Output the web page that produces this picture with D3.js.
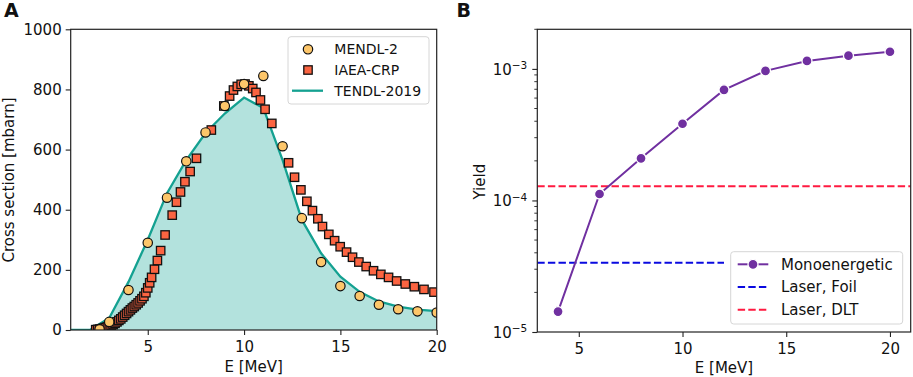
<!DOCTYPE html>
<html>
<head>
<meta charset="utf-8">
<script src="https://cdn.jsdelivr.net/npm/d3@7"></script>
<style>
  body { margin: 0; background: #fff; }
  text { font-family: "DejaVu Sans", sans-serif; fill: #111; }
</style>
</head>
<body>
<svg id="fig" width="913" height="377"></svg>
<script>
// ---- panel A data ----
const tendlE = [1, 2, 3, 4, 5, 6, 7, 8, 9, 10, 11, 12, 13, 14, 15, 16, 17, 18, 19, 20];
const tendlXS = [0, 0, 40, 160, 300, 455, 565, 655, 720, 773, 738, 565, 366, 255, 177, 127, 95, 78, 68, 63];

const mendlE = [2.5, 3, 4, 5, 6, 7, 8, 9, 10, 11, 12, 13, 14, 15, 16, 17, 18, 19, 20];
const mendlXS = [2, 27, 133, 290, 440, 561, 657, 745, 818, 845, 611, 372, 226, 146, 113, 84, 69, 62, 58];

const iaeaE = [2.3, 2.4, 2.5, 2.6, 2.7, 2.8, 2.9, 3.0, 3.1, 3.2, 3.3, 3.4, 3.5, 3.6, 3.7, 3.8, 3.9,
  4.0, 4.1, 4.2, 4.3, 4.4, 4.5, 4.6, 4.7, 4.8, 4.9, 5.0, 5.1, 5.2, 5.35, 5.5, 5.67, 5.9, 6.27, 6.49,
  6.7, 6.93, 7.2, 7.53, 8.3, 8.95, 9.25, 9.45, 9.65, 9.85, 10.05, 10.25, 10.45, 10.62, 10.85, 11.09,
  11.44, 12.31, 12.62, 12.95, 13.26, 13.55, 13.83, 14.07, 14.4, 14.7, 14.99, 15.32, 15.63, 15.96,
  16.34, 16.72, 17.1, 17.5, 17.92, 18.37, 18.84, 19.34, 19.86];
const iaeaXS = [1, 2, 3, 4, 6, 8, 10, 12, 15, 18, 22, 27, 32, 37, 43, 49, 55,
  61, 67, 73, 78, 84, 90, 97, 104, 112, 124, 140, 157, 175, 202, 231, 264, 316, 382, 425,
  459, 493, 527, 571, 665, 745, 778, 798, 810, 817, 818, 812, 803, 790, 765, 734,
  687, 556, 508, 466, 428, 397, 370, 344, 318, 297, 277, 259, 242, 226,
  211, 197, 185, 175, 163, 153, 144, 135, 126];

const xTicksA = [5, 10, 15, 20];
const yTicksA = [0, 200, 400, 600, 800, 1000];

// ---- panel B data ----
const monoE = [4, 6, 8, 10, 12, 14, 16, 18, 20];
const monoYield = [1.43e-5, 1.12e-4, 2.09e-4, 3.83e-4, 6.93e-4, 9.66e-4, 1.15e-3, 1.26e-3, 1.35e-3];
const foilYield = 3.36e-5, foilRange = [3, 12];
const dltYield = 1.28e-4, dltRange = [3, 21];

const xTicksB = [5, 10, 15, 20];
const yTicksB = [1e-5, 1e-4, 1e-3];
const yExpB = ["\u22125", "\u22124", "\u22123"];

const cMendl = "#fdc66a", cIaea = "#fb6441", cTendl = "#14a191", cFill = "#b3e2dd";
const cMono = "#7030a0", cFoil = "#0a0ae0", cDlt = "#ff1a40";

const svg = d3.select("#fig");
svg.append("rect").attr("width", 913).attr("height", 377).attr("fill", "#fff");

function frame(g, x0, x1, y0, y1) {
    g.append("rect")
        .attr("x", x0).attr("y", y1)
        .attr("width", x1 - x0).attr("height", y0 - y1)
        .attr("fill", "none")
        .attr("stroke", "#222")
        .attr("stroke-width", 1.2);
}

function clip(id, x0, x1, y0, y1) {
    svg.append("clipPath").attr("id", id)
        .append("rect")
        .attr("x", x0).attr("y", y1)
        .attr("width", x1 - x0).attr("height", y0 - y1);
    return "url(#" + id + ")";
}

function styleAxis(ax) {
    ax.select(".domain").remove();
    ax.selectAll(".tick line").attr("stroke", "#222").attr("stroke-width", 1.1);
    ax.selectAll(".tick text").attr("font-size", 15).attr("fill", "#111")
        .attr("font-family", "DejaVu Sans");
}

function legend(g, x, y, w, h) {
    return g.append("rect")
        .attr("x", x).attr("y", y).attr("width", w).attr("height", h)
        .attr("rx", 3)
        .attr("fill", "#fff").attr("fill-opacity", 0.8)
        .attr("stroke", "#d6d6d6").attr("stroke-width", 1);
}

// ================= panel A =================
function panelA() {
    const x = d3.scaleLinear().domain([1, 20]).range([70.7, 436.7]);
    const y = d3.scaleLinear().domain([0, 1000]).range([330, 29.3]);
    const g = svg.append("g");
    const plot = g.append("g").attr("clip-path", clip("clipA", 70.7, 436.7, 330, 29.3));

    const pts = tendlE.map((e, i) => [e, tendlXS[i]]);

    plot.append("path")
        .datum(pts)
        .attr("fill", cFill)
        .attr("d", d3.area().x(d => x(d[0])).y0(y(0)).y1(d => y(d[1])));

    plot.append("path")
        .datum(pts)
        .attr("fill", "none")
        .attr("stroke", cTendl)
        .attr("stroke-width", 2.3)
        .attr("d", d3.line().x(d => x(d[0])).y(d => y(d[1])));

    // IAEA squares
    const s = 8.4;
    plot.selectAll(".sq")
        .data(iaeaE.map((e, i) => [e, iaeaXS[i]]))
        .enter().append("rect")
        .attr("x", d => x(d[0]) - s / 2)
        .attr("y", d => y(d[1]) - s / 2)
        .attr("width", s).attr("height", s)
        .attr("fill", cIaea)
        .attr("stroke", "#111").attr("stroke-width", 1.3);

    // MENDL circles
    plot.selectAll(".ci")
        .data(mendlE.map((e, i) => [e, mendlXS[i]]))
        .enter().append("circle")
        .attr("cx", d => x(d[0]))
        .attr("cy", d => y(d[1]))
        .attr("r", 4.7)
        .attr("fill", cMendl)
        .attr("stroke", "#111").attr("stroke-width", 1.2);

    frame(g, 70.7, 436.7, 330, 29.3);

    const ax = g.append("g")
        .attr("transform", "translate(0,330)")
        .call(d3.axisBottom(x).tickValues(xTicksA).tickSize(5).tickPadding(6));
    styleAxis(ax);
    const ay = g.append("g")
        .attr("transform", "translate(70.7,0)")
        .call(d3.axisLeft(y).tickValues(yTicksA).tickSize(5).tickPadding(4)
            .tickFormat(d3.format("d")));
    styleAxis(ay);

    g.append("text").attr("x", 253.7).attr("y", 371.5)
        .attr("text-anchor", "middle").attr("font-size", 15).text("E [MeV]");
    g.append("text")
        .attr("transform", "translate(13.5,180) rotate(-90)")
        .attr("text-anchor", "middle").attr("font-size", 15).text("Cross section [mbarn]");

    // legend
    legend(g, 288, 36.7, 141, 67.3);
    const rows = [49.3, 70, 90.7];
    g.append("circle").attr("cx", 308).attr("cy", rows[0]).attr("r", 4.7)
        .attr("fill", cMendl).attr("stroke", "#111").attr("stroke-width", 1.2);
    g.append("rect").attr("x", 308 - s / 2).attr("y", rows[1] - s / 2)
        .attr("width", s).attr("height", s)
        .attr("fill", cIaea).attr("stroke", "#111").attr("stroke-width", 1.3);
    g.append("line").attr("x1", 292).attr("x2", 323)
        .attr("y1", rows[2]).attr("y2", rows[2])
        .attr("stroke", cTendl).attr("stroke-width", 2.3);
    ["MENDL-2", "IAEA-CRP", "TENDL-2019"].forEach((t, i) => {
        g.append("text").attr("x", 334.3).attr("y", rows[i] + 5)
            .attr("font-size", 14).text(t);
    });

    svg.append("text").attr("x", 4).attr("y", 17)
        .attr("font-size", 19).attr("font-weight", "bold").text("A");
}

// ================= panel B =================
function panelB() {
    const x = d3.scaleLinear().domain([3, 21]).range([537.3, 910.7]);
    const y = d3.scaleLog().domain([1e-5, 2e-3]).range([332, 29.3]);
    const g = svg.append("g");
    const plot = g.append("g").attr("clip-path", clip("clipB", 537.3, 910.7, 332, 29.3));

    // horizontal laser lines
    plot.append("line")
        .attr("x1", x(dltRange[0])).attr("x2", x(dltRange[1]))
        .attr("y1", y(dltYield)).attr("y2", y(dltYield))
        .attr("stroke", cDlt).attr("stroke-width", 2)
        .attr("stroke-dasharray", "7.4,3.2");
    plot.append("line")
        .attr("x1", x(foilRange[0])).attr("x2", x(foilRange[1]))
        .attr("y1", y(foilYield)).attr("y2", y(foilYield))
        .attr("stroke", cFoil).attr("stroke-width", 2)
        .attr("stroke-dasharray", "7.4,3.2");

    const pts = monoE.map((e, i) => [e, monoYield[i]]);
    plot.append("path")
        .datum(pts)
        .attr("fill", "none")
        .attr("stroke", cMono)
        .attr("stroke-width", 2)
        .attr("d", d3.line().x(d => x(d[0])).y(d => y(d[1])));
    plot.selectAll(".mk")
        .data(pts)
        .enter().append("circle")
        .attr("cx", d => x(d[0]))
        .attr("cy", d => y(d[1]))
        .attr("r", 5)
        .attr("fill", cMono)
        .attr("stroke", "#fff").attr("stroke-width", 1.3);

    frame(g, 537.3, 910.7, 332, 29.3);

    const ax = g.append("g")
        .attr("transform", "translate(0,332)")
        .call(d3.axisBottom(x).tickValues(xTicksB).tickSize(5).tickPadding(6));
    styleAxis(ax);

    // minor log ticks
    const minors = [];
    yTicksB.forEach(dec => {
        for (let k = 2; k <= 9; k++) if (dec * k <= 2e-3) minors.push(dec * k);
    });
    g.selectAll(".mn")
        .data(minors)
        .enter().append("line")
        .attr("x1", 537.3 - 3).attr("x2", 537.3)
        .attr("y1", d => y(d)).attr("y2", d => y(d))
        .attr("stroke", "#222").attr("stroke-width", 0.9);

    const ay = g.append("g")
        .attr("transform", "translate(537.3,0)")
        .call(d3.axisLeft(y).tickValues(yTicksB).tickSize(5).tickPadding(5).tickFormat(""));
    styleAxis(ay);
    ay.selectAll(".tick").each(function(d, i) {
        const t = d3.select(this).append("text")
            .attr("x", -10).attr("dy", "0.36em")
            .attr("text-anchor", "end")
            .attr("font-size", 15).attr("fill", "#111");
        t.append("tspan").text("10");
        t.append("tspan").attr("dy", "-0.55em").attr("font-size", 10.5).text(yExpB[i]);
    });

    g.append("text").attr("x", 724).attr("y", 373)
        .attr("text-anchor", "middle").attr("font-size", 15).text("E [MeV]");
    g.append("text")
        .attr("transform", "translate(484.5,181.7) rotate(-90)")
        .attr("text-anchor", "middle").attr("font-size", 15).text("Yield");

    // legend
    legend(g, 730.7, 251.7, 172, 72.3);
    const rows = [264.3, 287, 309.7];
    g.append("line").attr("x1", 737.7).attr("x2", 768.3)
        .attr("y1", rows[0]).attr("y2", rows[0])
        .attr("stroke", cMono).attr("stroke-width", 2);
    g.append("circle").attr("cx", 753).attr("cy", rows[0]).attr("r", 5)
        .attr("fill", cMono).attr("stroke", "#fff").attr("stroke-width", 1.3);
    [[cFoil, rows[1]], [cDlt, rows[2]]].forEach(([c, yy]) => {
        g.append("line").attr("x1", 737.7).attr("x2", 768.3)
            .attr("y1", yy).attr("y2", yy)
            .attr("stroke", c).attr("stroke-width", 2)
            .attr("stroke-dasharray", "7.4,3.2");
    });
    ["Monoenergetic", "Laser, Foil", "Laser, DLT"].forEach((t, i) => {
        g.append("text").attr("x", 781).attr("y", rows[i] + 5.3)
            .attr("font-size", 15).text(t);
    });

    svg.append("text").attr("x", 456.5).attr("y", 17)
        .attr("font-size", 19).attr("font-weight", "bold").text("B");
}

panelA();
panelB();
</script>
</body>
</html>
